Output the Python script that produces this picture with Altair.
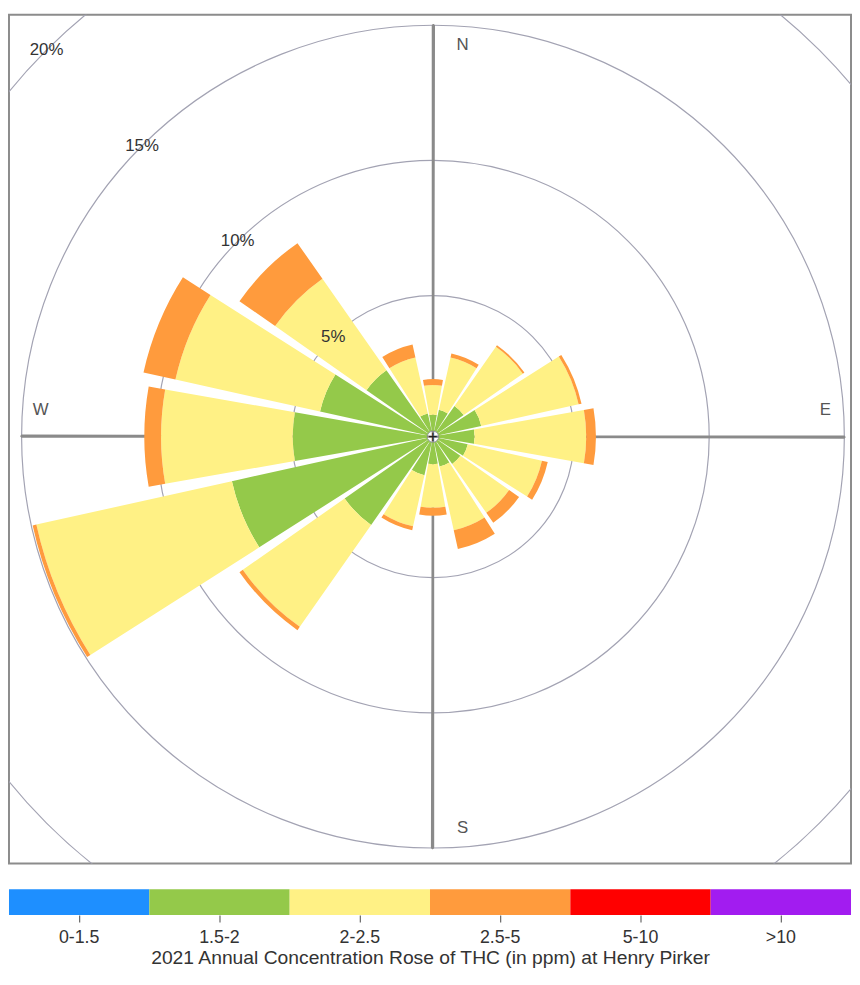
import math
import altair as alt
import pandas as pd

# ---------------- data ----------------
directions = ["N", "NNE", "NE", "ENE", "E", "ESE", "SE", "SSE",
              "S", "SSW", "SW", "WSW", "W", "WNW", "NW", "NNW"]
direction_deg = [0, 22.5, 45, 67.5, 90, 112.5, 135, 157.5,
                 180, 202.5, 225, 247.5, 270, 292.5, 315, 337.5]

classes = ["0-1.5", "1.5-2", "2-2.5", "2.5-5", "5-10", ">10"]
class_colors = ["#1E8FFF", "#94C94A", "#FFF185", "#FF9B3D", "#FF0000", "#A21CF0"]

# frequency (%) of each concentration class per direction
freq_15_2 = [0.59, 0.80, 1.17, 1.61, 1.32, 1.10, 1.02, 0.91,
             0.80, 1.24, 3.77, 7.40, 4.97, 4.06, 2.78, 0.66]
freq_2_25 = [1.10, 1.98, 2.67, 3.69, 4.13, 2.81, 2.20, 2.42,
             1.61, 1.94, 4.60, 7.41, 4.87, 5.48, 4.13, 2.12]
freq_25_5 = [0.22, 0.15, 0.07, 0.11, 0.36, 0.22, 0.45, 0.71,
             0.30, 0.15, 0.15, 0.14, 0.62, 1.21, 1.61, 0.49]

ring_values = [5, 10, 15, 20]
ring_labels = ["5%", "10%", "15%", "20%"]
compass_labels = ["N", "E", "S", "W"]
compass_deg = [0, 90, 180, 270]

TITLE = "2021 Annual Concentration Rose of THC (in ppm) at Henry Pirker"

# ---------------- layout ----------------
W, H = 852, 859
CX, CY = 429, 427
HALF_WIDTH_DEG = 10
FONT = "Liberation Sans"

radius_scale = alt.Scale(type="linear", domain=[0, 20], range=[6, 553])

rows = []
for i, d in enumerate(directions):
    base = 0.0
    for cls, vals in (("1.5-2", freq_15_2), ("2-2.5", freq_2_25), ("2.5-5", freq_25_5)):
        v = vals[i]
        a = direction_deg[i] - HALF_WIDTH_DEG
        if a < 0:
            a += 360
        t1 = math.radians(a)
        rows.append(dict(direction=d, cls=cls, r1=base, r2=base + v,
                         t1=t1, t2=t1 + math.radians(2 * HALF_WIDTH_DEG)))
        base += v
bars_df = pd.DataFrame(rows)

ring_df = pd.DataFrame({"ring": ring_values, "label": ring_labels})
axis_df = pd.DataFrame({"t1": [math.radians(a) for a in compass_deg],
                        "ext": [15, 15, 15, 15]})
axis_df["t2"] = axis_df["t1"] + 0.002
comp_df = pd.DataFrame({"label": compass_labels,
                        "t": [math.radians(a) for a in compass_deg]})

cx = alt.value(CX)
cy = alt.value(CY)

rings = alt.Chart(ring_df).mark_arc(filled=False, stroke="#a3a3b3", strokeWidth=1.2, clip=True).encode(
    theta=alt.value(0), theta2=alt.value(2 * math.pi),
    radius=alt.Radius("ring:Q", scale=radius_scale, stack=None),
    x=cx, y=cy,
)

axes_lines = alt.Chart(axis_df).mark_arc(filled=False, stroke="#8a8a8a", strokeWidth=2.5,
                                         strokeJoin="bevel").encode(
    theta=alt.Theta("t1:Q", scale=None, stack=None), theta2="t2:Q",
    radius=alt.Radius("ext:Q", scale=radius_scale, stack=None), radius2=alt.value(0),
    x=cx, y=cy,
)

bars = alt.Chart(bars_df).mark_arc(clip=True).encode(
    theta=alt.Theta("t1:Q", scale=None, stack=None), theta2="t2:Q",
    radius=alt.Radius("r2:Q", scale=radius_scale, stack=None), radius2="r1:Q",
    color=alt.Color("cls:N", scale=alt.Scale(domain=classes, range=class_colors), legend=None),
    x=cx, y=cy,
)

ring_text = alt.Chart(ring_df).mark_text(font=FONT, fontSize=17, color="#333333",
                                         align="center", baseline="middle").encode(
    theta=alt.value(7 * math.pi / 4),
    radius=alt.Radius("ring:Q", scale=radius_scale, stack=None),
    text="label:N", x=cx, y=cy,
)

ns_text = alt.Chart(comp_df[comp_df["label"].isin(["N", "S"])]).mark_text(
    font=FONT, fontSize=17, color="#555555", align="center", baseline="middle", dx=30).encode(
    theta=alt.Theta("t:Q", scale=None, stack=None), radius=alt.value(396),
    text="label:N", x=cx, y=cy,
)
ew_text = alt.Chart(comp_df[comp_df["label"].isin(["E", "W"])]).mark_text(
    font=FONT, fontSize=17, color="#555555", align="center", baseline="middle", dy=-27).encode(
    theta=alt.Theta("t:Q", scale=None, stack=None), radius=alt.value(397),
    text="label:N", x=cx, y=cy,
)

center = alt.Chart(pd.DataFrame({"c": ["+"]})).mark_text(
    font=FONT, fontSize=16, color="#222222", align="center", baseline="middle").encode(
    text="c:N", x=cx, y=cy,
)

rose = alt.layer(rings, axes_lines, bars, ring_text, ns_text, ew_text, center).properties(
    width=W, height=H,
    view=alt.ViewBackground(stroke="#8c8c8c", strokeWidth=2),
)

legend_df = pd.DataFrame({"cls": classes})
legend = alt.Chart(legend_df).mark_rect().encode(
    x=alt.X("cls:N", sort=classes,
            scale=alt.Scale(paddingInner=0, paddingOuter=0),
            axis=alt.Axis(title=TITLE, orient="bottom", domain=False, ticks=True,
                          tickSize=7, tickColor="#666666", tickWidth=1.2, labelAngle=0,
                          labelFont=FONT, labelFontSize=18, labelColor="#333333",
                          labelPadding=7, titleFont=FONT, titleFontSize=19.5,
                          titleFontWeight="normal", titleColor="#333333", titlePadding=2)),
    color=alt.Color("cls:N", scale=alt.Scale(domain=classes, range=class_colors), legend=None),
).properties(width=W, height=26, view=alt.ViewBackground(stroke=None))

chart = alt.vconcat(rose, legend, spacing=25).properties(padding=0).configure_view(stroke=None)

chart.save("out.html", embed_options={"renderer": "svg", "actions": False})
